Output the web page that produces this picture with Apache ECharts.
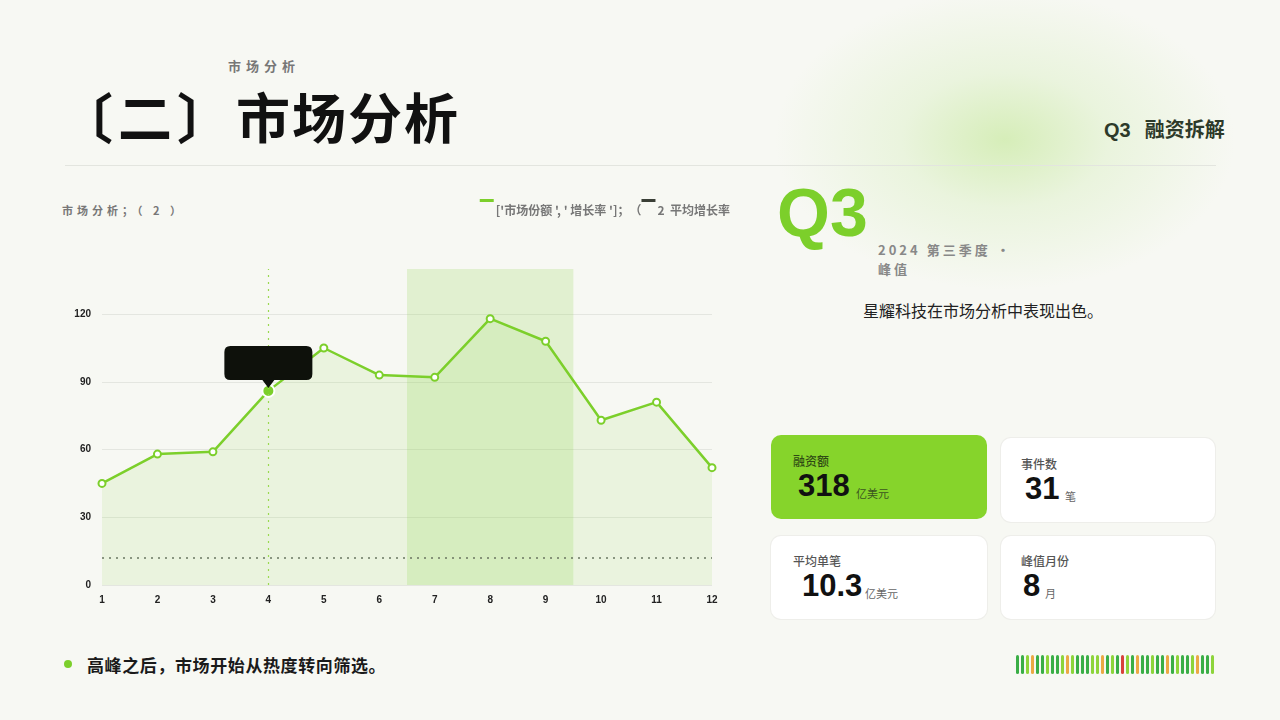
<!DOCTYPE html>
<html><head><meta charset="utf-8">
<script src="https://cdn.jsdelivr.net/npm/echarts@6/dist/echarts.min.js"></script>
<style>
html,body{margin:0;padding:0;width:1280px;height:720px;overflow:hidden;background:#f7f8f3;font-family:"Noto Sans CJK SC","Noto Sans",sans-serif;}
#glow{position:absolute;left:760px;top:-20px;width:500px;height:330px;background:radial-gradient(ellipse 230px 150px at 245px 160px,rgba(200,233,160,0.7) 0%,rgba(218,239,195,0.45) 45%,rgba(247,248,243,0) 100%);}
.abs{position:absolute;white-space:nowrap;}
#chart{position:absolute;left:0;top:0;width:1280px;height:720px;}
.card{position:absolute;border-radius:10px;background:#fff;box-shadow:0 0 0 1px #eeeeea;}
.card .lab{position:absolute;font-size:12px;color:#555;font-weight:500;}
.card .val{position:absolute;font-family:"Liberation Sans",Arial,sans-serif;font-weight:bold;font-size:31px;color:#111;line-height:1;}
.card .unit{position:absolute;font-size:11px;color:#666;}
#bars{position:absolute;left:1016px;top:655px;height:19px;display:flex;gap:2px;}
#bars div{width:3px;height:19px;border-radius:1.5px;}
</style></head>
<body>
<div id="glow"></div>
<div class="abs" style="left:228px;top:56px;font-size:13px;color:#777;letter-spacing:5px;font-weight:bold;">市场分析</div>
<div class="abs" style="left:59px;top:80px;font-size:54px;color:#111;font-weight:bold;line-height:72px;"><span style="letter-spacing:5px;">〔二〕</span><span style="letter-spacing:2px;">市场分析</span></div>
<div class="abs" style="left:1104px;top:114px;font-size:20px;color:#2d3a2a;font-weight:bold;"><span style="font-family:'Liberation Sans',Arial,sans-serif;margin-right:14px;">Q3</span>融资拆解</div>
<div class="abs" style="left:65px;top:165px;width:1151px;height:1px;background:#e3e5df;"></div>
<div class="abs" style="left:62px;top:202px;font-size:11px;color:#777;font-weight:bold;letter-spacing:4px;">市场分析；（ 2 ）</div>
<div class="abs" style="left:777px;top:172px;font-size:68px;color:#7ccf2b;font-weight:bold;font-family:'Liberation Sans',Arial,sans-serif;line-height:80px;">Q3</div>
<div class="abs" style="left:878px;top:240px;font-size:13px;color:#888;font-weight:bold;letter-spacing:3px;line-height:19px;white-space:normal;width:140px;">2024 第三季度 · 峰值</div>
<div class="abs" style="left:863px;top:298px;font-size:16px;color:#222;">星耀科技在市场分析中表现出色。</div>

<div class="card" style="left:771px;top:435px;width:216px;height:84px;background:#86d42b;box-shadow:none;">
  <div class="lab" style="left:22px;top:17px;color:#2f4a14;">融资额</div>
  <div class="val" style="left:27px;top:35px;">318</div>
  <div class="unit" style="left:85px;top:50px;color:#3b5520;">亿美元</div>
</div>
<div class="card" style="left:1001px;top:438px;width:214px;height:84px;">
  <div class="lab" style="left:20px;top:17px;">事件数</div>
  <div class="val" style="left:24px;top:35px;">31</div>
  <div class="unit" style="left:64px;top:50px;">笔</div>
</div>
<div class="card" style="left:771px;top:536px;width:216px;height:83px;">
  <div class="lab" style="left:22px;top:16px;">平均单笔</div>
  <div class="val" style="left:31px;top:34px;">10.3</div>
  <div class="unit" style="left:94px;top:49px;">亿美元</div>
</div>
<div class="card" style="left:1001px;top:536px;width:214px;height:83px;">
  <div class="lab" style="left:20px;top:16px;">峰值月份</div>
  <div class="val" style="left:22px;top:34px;">8</div>
  <div class="unit" style="left:44px;top:49px;">月</div>
</div>

<div class="abs" style="left:64px;top:660px;width:8px;height:8px;border-radius:4px;background:#7ccf2b;"></div>
<div class="abs" style="left:87px;top:652px;font-size:17px;color:#1a1a1a;font-weight:bold;letter-spacing:0.6px;">高峰之后，市场开始从热度转向筛选。</div>
<div id="bars"></div>

<div id="chart"></div>
<script>
// ---- data ----
var months = [1,2,3,4,5,6,7,8,9,10,11,12];
var marketShare = [45,58,59,86,105,93,92,118,108,73,81,52];
var avgGrowth = 12;
var highlightMonth = 4;
var bandFrom = 6.5, bandTo = 9.5;
var yTicks = [0,30,60,90,120];
var legendNames = ["['市场份额 ', ' 增长率 ']；（", "2  平均增长率"];
var barColors = ['d','d','l','o','d','d','l','d','d','l','o','l','d','d','d','l','l','o','d','l','d','r','l','d','o','d','d','l','d','d','o','d','l','d','d','l','o','d','d','l'];

// ---- decorative strip ----
var cmap = {d:'#3aae45', l:'#8dd43a', o:'#eaa944', r:'#d8413a'};
var barsEl = document.getElementById('bars');
barColors.forEach(function(c){ var e=document.createElement('div'); e.style.background=cmap[c]; barsEl.appendChild(e); });

var green = '#7ccf2b';
var pts = months.map(function(m,i){
  var p = {value:[m, marketShare[i]]};
  if (m === highlightMonth) {
    p.symbol = 'circle'; p.symbolSize = 12;
    p.itemStyle = {color: green, borderColor:'#ffffff', borderWidth:2};
  }
  return p;
});

var chart = echarts.init(document.getElementById('chart'), null, {renderer:'canvas'});
chart.setOption({
  backgroundColor: 'transparent',
  animation: false,
  legend: {
    right: 545, top: 194, itemWidth: 14, itemHeight: 3, itemGap: 0,
    icon: 'rect',
    data: [{name: legendNames[0]}, {name: legendNames[1]}],
    formatter: function(n){ return '{t|' + n + '}'; },
    textStyle: {
      fontSize: 12, fontWeight: 'bold', color: '#777',
      rich: {t: {fontSize: 12, fontWeight: 'bold', color: '#777', padding: [19, 0, 0, -3], fontFamily: '"Noto Sans CJK SC", sans-serif'}}
    }
  },
  grid: {left: 102, right: 568, top: 269, bottom: 135},
  xAxis: {
    type: 'value', min: 1, max: 12, interval: 1,
    axisLine: {show: false}, axisTick: {show: false}, splitLine: {show: false},
    axisLabel: {margin: 10, fontSize: 10, fontWeight: 'bold', color: '#222', fontFamily: '"Liberation Sans", Arial, sans-serif'}
  },
  yAxis: {
    type: 'value', min: 0, max: 140, interval: 30,
    axisLine: {show: false}, axisTick: {show: false},
    splitLine: {show: true, showMaxLine: false, lineStyle: {color: '#e4e6e0', width: 1}},
    axisLabel: {margin: 11, fontSize: 10, fontWeight: 'bold', color: '#222', fontFamily: '"Liberation Sans", Arial, sans-serif',
      showMaxLabel: false,
      formatter: function(v){ return yTicks.indexOf(v) >= 0 ? String(v) : ''; }}
  },
  series: [
    {
      name: legendNames[0], type: 'line', data: pts,
      color: green,
      symbol: 'emptyCircle', symbolSize: 7,
      lineStyle: {width: 2.5, color: green},
      itemStyle: {color: green, borderWidth: 1.5},
      areaStyle: {color: 'rgba(140,210,70,0.17)'},
      z: 3,
      markArea: {
        silent: true,
        itemStyle: {color: 'rgba(140,210,70,0.2)', borderRadius: 6},
        data: [[{xAxis: bandFrom, yAxis: 140}, {xAxis: bandTo, yAxis: 0}]]
      },
      markLine: {
        silent: true, symbol: 'none', label: {show: false},
        lineStyle: {color: '#9ad94f', type: [2, 5], width: 1.2},
        data: [{xAxis: highlightMonth}]
      },
      markPoint: {
        silent: true,
        symbol: 'path://M6,0 H82 Q88,0 88,6 V28 Q88,34 82,34 H50 L44,42 L38,34 H6 Q0,34 0,28 V6 Q0,0 6,0 Z',
        symbolSize: [88, 42], symbolOffset: [0, -24],
        itemStyle: {color: '#0e110b'},
        label: {show: false},
        data: [{coord: [highlightMonth, marketShare[highlightMonth-1]]}]
      }
    },
    {
      name: legendNames[1], type: 'line', data: [],
      color: '#3a3f36',
      lineStyle: {color: '#3a3f36'},
      markLine: {
        silent: true, symbol: 'none', label: {show: false},
        lineStyle: {color: '#6a7560', type: [2, 5], width: 1.5},
        data: [{yAxis: avgGrowth}]
      }
    }
  ]
});
</script>
</body></html>
